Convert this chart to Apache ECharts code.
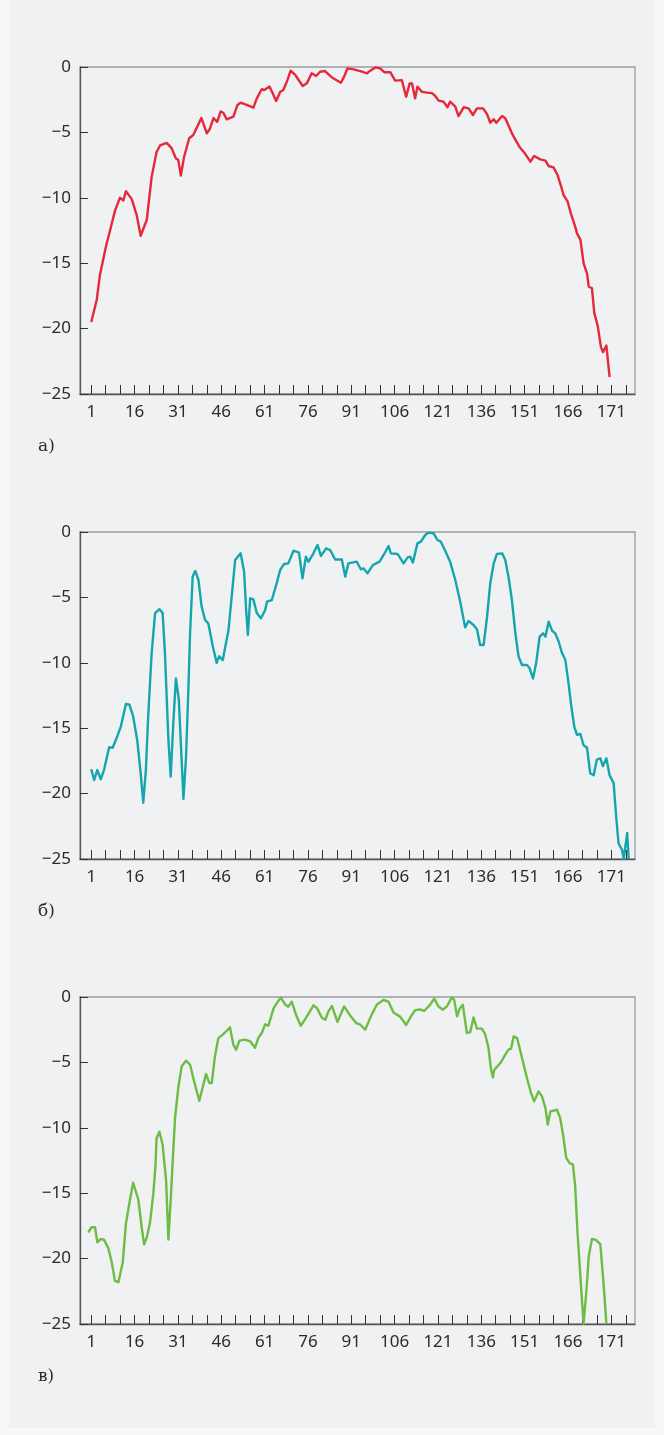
<!DOCTYPE html>
<html>
<head>
<meta charset="utf-8">
<script src="https://cdn.jsdelivr.net/npm/echarts@6/dist/echarts.min.js"></script>
<style>
html,body{margin:0;padding:0;background:#f8f8f9;}
#panel{position:absolute;left:9px;top:0;width:646px;height:1428px;background:#f0f1f3;}
#chart{position:absolute;left:0;top:0;width:664px;height:1435px;}
</style>
</head>
<body>
<div id="panel"></div>
<div id="chart"></div>
<script>
// x-axis tick positions and labels
const xTickValues = [1,6,11,16,21,26,31,36,41,46,51,56,61,66,71,76,81,86,91,96,101,106,111,116,121,126,131,136,141,146,151,156,161,166,171,176,181,186];
const xLabelValues = [1,16,31,46,61,76,91,106,121,136,151,166,181];
const xLabelTexts = ['1','16','31','46','61','76','91','106','121','136','151','166','171'];
const yTickValues = [0,-5,-10,-15,-20,-25];
const panelLetters = ['а)','б)','в)'];

// series а) (red)
const redX = [1,2.9,4,6.1,7.5,9.2,10.9,12.1,13,15,16.7,18.1,20.2,21.9,23.6,24.8,27.1,28.8,30.3,31.1,32,33.1,34.9,36.3,37.7,39.1,41,42.1,43.3,44.6,45.8,46.7,47.9,50.2,51.6,52.7,54.8,57.1,58.3,60,60.9,62.7,63.8,65,66.4,67.5,68.9,70,71.6,74.2,75.6,77.3,78.8,80.2,81.9,84.3,87.4,88.5,89.7,91.8,94.7,96.4,97.6,99.3,101,102.4,104.5,106.2,108.5,110,111.2,112,113.1,113.9,115.4,117.2,118.9,120,121.2,122.9,124.3,125.2,127,128.1,129.9,131.6,133.1,134.5,136.6,138,139.1,140.3,141.2,143.2,144.3,146.6,149.3,150.9,153,154.3,156.4,158.2,159.3,161,162.4,163.6,164.5,165.9,167,168.5,169.1,170.3,171.4,172.6,173.2,174.3,175.1,176.3,177.4,178.1,179.3,180.4];
const redY = [-19.5,-17.8,-15.9,-13.7,-12.5,-11.0,-10.0,-10.2,-9.5,-10.1,-11.3,-12.9,-11.7,-8.4,-6.5,-6.0,-5.8,-6.2,-7.0,-7.1,-8.3,-6.9,-5.45,-5.2,-4.56,-3.9,-5.07,-4.7,-3.9,-4.2,-3.4,-3.5,-4.0,-3.8,-2.9,-2.73,-2.9,-3.11,-2.4,-1.7,-1.76,-1.5,-2.0,-2.6,-1.89,-1.76,-1.0,-0.28,-0.61,-1.45,-1.25,-0.48,-0.69,-0.36,-0.31,-0.8,-1.2,-0.74,-0.1,-0.18,-0.36,-0.48,-0.28,-0.03,-0.1,-0.4,-0.4,-1.04,-1.0,-2.27,-1.25,-1.25,-2.4,-1.5,-1.89,-1.96,-2.0,-2.2,-2.57,-2.65,-3.08,-2.65,-3.03,-3.75,-3.08,-3.16,-3.67,-3.16,-3.16,-3.6,-4.26,-4.0,-4.26,-3.75,-3.92,-5.07,-6.14,-6.55,-7.24,-6.8,-7.06,-7.16,-7.57,-7.67,-8.26,-9.1,-9.79,-10.3,-11.2,-12.2,-12.7,-13.2,-15.0,-15.8,-16.8,-16.9,-18.8,-19.8,-21.4,-21.8,-21.3,-23.7];

// series б) (teal)
const tealX = [1,2,3.1,4.3,5.4,7.2,8.4,9.6,11.2,13,14.2,15.5,16.9,18.1,19,19.9,20.7,21.9,23.1,24.6,25.7,26.5,27.7,28.5,29.4,30.3,31.3,32.9,33.8,34.6,35.2,36.1,37,38.1,39.2,40.4,41.5,43.1,44.4,45.3,46.5,48.5,49.6,50.8,52.7,53.9,54.6,55.2,56,57.1,58.3,59.7,61.2,61.8,63.5,65,66.4,67.7,69.2,71,72.9,74.1,75.3,76.2,77.9,79.3,80.5,82.3,83.7,85.4,87.7,88.9,90,92.9,94.3,95.2,96.6,98.5,100.8,102.4,103.9,104.7,107,109.1,110.5,111.4,112.3,113.9,115.1,116.6,117.7,119.5,120.8,122,123.9,125.2,127,128.7,130.4,131.6,133.3,134.5,135.6,136.8,138,139.1,140.3,141.4,143.2,144.3,145.4,146.6,147.8,148.9,150.1,151.8,152.7,153.9,155,156.2,157.4,158.2,159.3,160.5,161.6,162.8,163.9,165.1,166.2,167.2,168.2,169.1,170.3,171.4,172.6,173.7,174.9,176,177.2,178.1,179.3,180.4,181.8,182.7,183.5,184.7,185.3,186.5,187];
const tealY = [-18.14,-18.96,-18.2,-18.9,-18.2,-16.46,-16.5,-15.85,-14.9,-13.15,-13.2,-14.1,-15.9,-18.45,-20.7,-18.2,-14.1,-9.27,-6.2,-5.9,-6.2,-9.27,-15.9,-18.7,-14.6,-11.2,-12.8,-20.4,-17.2,-12.1,-7.75,-3.4,-2.98,-3.67,-5.7,-6.73,-6.98,-8.77,-10.0,-9.5,-9.8,-7.5,-4.95,-2.14,-1.63,-3.03,-5.96,-7.87,-5.07,-5.15,-6.2,-6.6,-5.96,-5.33,-5.2,-4.05,-2.9,-2.45,-2.4,-1.43,-1.58,-3.54,-1.89,-2.27,-1.63,-0.99,-1.83,-1.25,-1.38,-2.1,-2.09,-3.41,-2.4,-2.27,-2.85,-2.78,-3.16,-2.52,-2.27,-1.68,-1.07,-1.63,-1.68,-2.4,-1.94,-1.89,-2.34,-0.87,-0.74,-0.23,-0.05,-0.1,-0.61,-0.74,-1.63,-2.27,-3.67,-5.33,-7.29,-6.8,-7.11,-7.44,-8.64,-8.64,-6.47,-3.92,-2.4,-1.68,-1.63,-2.14,-3.41,-5.2,-7.75,-9.53,-10.17,-10.17,-10.4,-11.2,-10.0,-8.0,-7.75,-8.0,-6.86,-7.54,-7.75,-8.39,-9.23,-9.79,-11.57,-13.4,-14.9,-15.5,-15.44,-16.3,-16.5,-18.45,-18.6,-17.4,-17.3,-17.9,-17.3,-18.6,-19.2,-21.8,-23.8,-24.3,-25,-23.0,-25];

// series в) (green)
const greenX = [0,1.1,2.3,3.1,4.3,5.4,6.9,8.1,9.2,10.4,11.9,13,14.4,15.5,16.1,17.3,18.5,19.3,20.2,21.3,22.5,23.2,23.6,24.6,25.7,26.9,27.7,28.5,29.4,30,31.1,32.3,33.8,35.2,36.6,38.4,39.8,40.7,41.9,42.7,43.8,45,46.5,47.9,49,50.2,51.1,52.3,54.2,56,57.7,58.8,60,61.2,62.3,64.1,65.4,66.6,68.1,69.2,70.4,71.9,73.5,75.4,77.9,79.1,80.8,82,83.1,84.3,86.2,88.5,90.6,92.7,94.1,95.8,98.1,99.9,102.1,103.9,105.6,107.9,110,111.4,113.1,114.9,116.2,118.1,119.7,121.2,122.7,124.1,125.8,126.6,127.6,128.5,129.6,131,132.2,133.3,134.5,136.2,137.4,138.5,139.3,140,140.5,142.6,144.3,145.4,146.3,147.2,148.4,150.1,151.8,153.2,154.3,155.8,157,158.2,159,159.9,162.2,163.3,164.3,165.4,166.6,167.7,168.5,169.3,170.3,171.4,172.4,173.2,174.3,175.5,177.2,178.3,179.3];
const greenY = [-18.0,-17.6,-17.6,-18.76,-18.5,-18.55,-19.2,-20.3,-21.7,-21.8,-20.3,-17.3,-15.5,-14.2,-14.2,-15.5,-17.7,-18.9,-18.4,-17.3,-15.0,-12.95,-10.8,-10.3,-11.3,-14.0,-18.55,-15.5,-11.67,-9.25,-6.96,-5.3,-4.87,-5.18,-6.45,-7.93,-6.7,-5.89,-6.58,-6.58,-4.54,-3.14,-2.88,-2.58,-2.32,-3.65,-4.03,-3.34,-3.26,-3.39,-3.88,-3.14,-2.75,-2.09,-2.2,-0.87,-0.41,-0.05,-0.57,-0.74,-0.36,-1.38,-2.2,-1.58,-0.64,-0.84,-1.58,-1.74,-1.1,-0.68,-1.91,-0.72,-1.41,-1.99,-2.12,-2.5,-1.33,-0.57,-0.23,-0.36,-1.18,-1.5,-2.14,-1.58,-1.0,-0.95,-1.07,-0.64,-0.13,-0.72,-0.97,-0.72,-0.03,-0.2,-1.48,-0.89,-0.59,-2.75,-2.68,-1.56,-2.42,-2.42,-2.88,-3.9,-5.43,-6.15,-5.56,-5.05,-4.41,-4.03,-3.95,-3.01,-3.14,-4.66,-6.19,-7.34,-7.98,-7.22,-7.6,-8.49,-9.76,-8.75,-8.62,-9.25,-10.53,-12.3,-12.7,-12.8,-14.48,-18.0,-21.36,-25,-22.4,-19.8,-18.5,-18.55,-18.9,-21.86,-25];

const seriesDefs = [
  {x: redX, y: redY, color: '#e5283a'},
  {x: tealX, y: tealY, color: '#14a6ad'},
  {x: greenX, y: greenY, color: '#6cbc45'}
];

const tops = [67, 532, 997];
const textColor = '#2b2b2b';
const labelFont = 'Noto Sans';

const grids = [], xAxes = [], yAxes = [], series = [], graphics = [];
tops.forEach((t, i) => {
  grids.push({left: 80, top: t, width: 555, height: 327, show: true, borderColor: '#9c9c9c', borderWidth: 1.3, backgroundColor: 'transparent'});
  xAxes.push({
    type: 'value', gridIndex: i, min: -2.9, max: 189.2,
    axisLine: {show: true, onZero: false, lineStyle: {color: '#555', width: 1.3}},
    axisTick: {show: true, inside: true, length: 9, customValues: xTickValues, lineStyle: {color: '#333', width: 1}},
    axisLabel: {show: true, margin: 10, fontSize: 17, fontFamily: labelFont, color: textColor, customValues: xLabelValues,
      formatter: v => { const k = xLabelValues.indexOf(v); return k >= 0 ? xLabelTexts[k] : ''; }},
    splitLine: {show: false}
  });
  yAxes.push({
    type: 'value', gridIndex: i, min: -25, max: 0, interval: 5,
    axisLine: {show: true, onZero: false, lineStyle: {color: '#555', width: 1.3}},
    axisTick: {show: true, inside: true, length: 8, lineStyle: {color: '#333', width: 1}},
    axisLabel: {show: true, margin: 9, fontSize: 17, fontFamily: labelFont, color: textColor,
      formatter: v => v < 0 ? '\u2212' + Math.abs(v) : String(v)},
    splitLine: {show: false}
  });
  const d = seriesDefs[i];
  series.push({
    type: 'line', xAxisIndex: i, yAxisIndex: i, showSymbol: false, symbol: 'none', smooth: false,
    lineStyle: {color: d.color, width: 2.4, join: 'round'},
    data: d.x.map((xv, k) => [xv, d.y[k]]),
    clip: true, animation: false
  });
  graphics.push({type: 'text', left: 38, top: t + 371, style: {text: panelLetters[i], font: '17px "DejaVu Serif"', fill: textColor}});
});

const chart = echarts.init(document.getElementById('chart'), null, {renderer: 'canvas'});
chart.setOption({
  animation: false,
  backgroundColor: 'transparent',
  grid: grids, xAxis: xAxes, yAxis: yAxes, series: series, graphic: graphics
});
</script>
</body>
</html>
